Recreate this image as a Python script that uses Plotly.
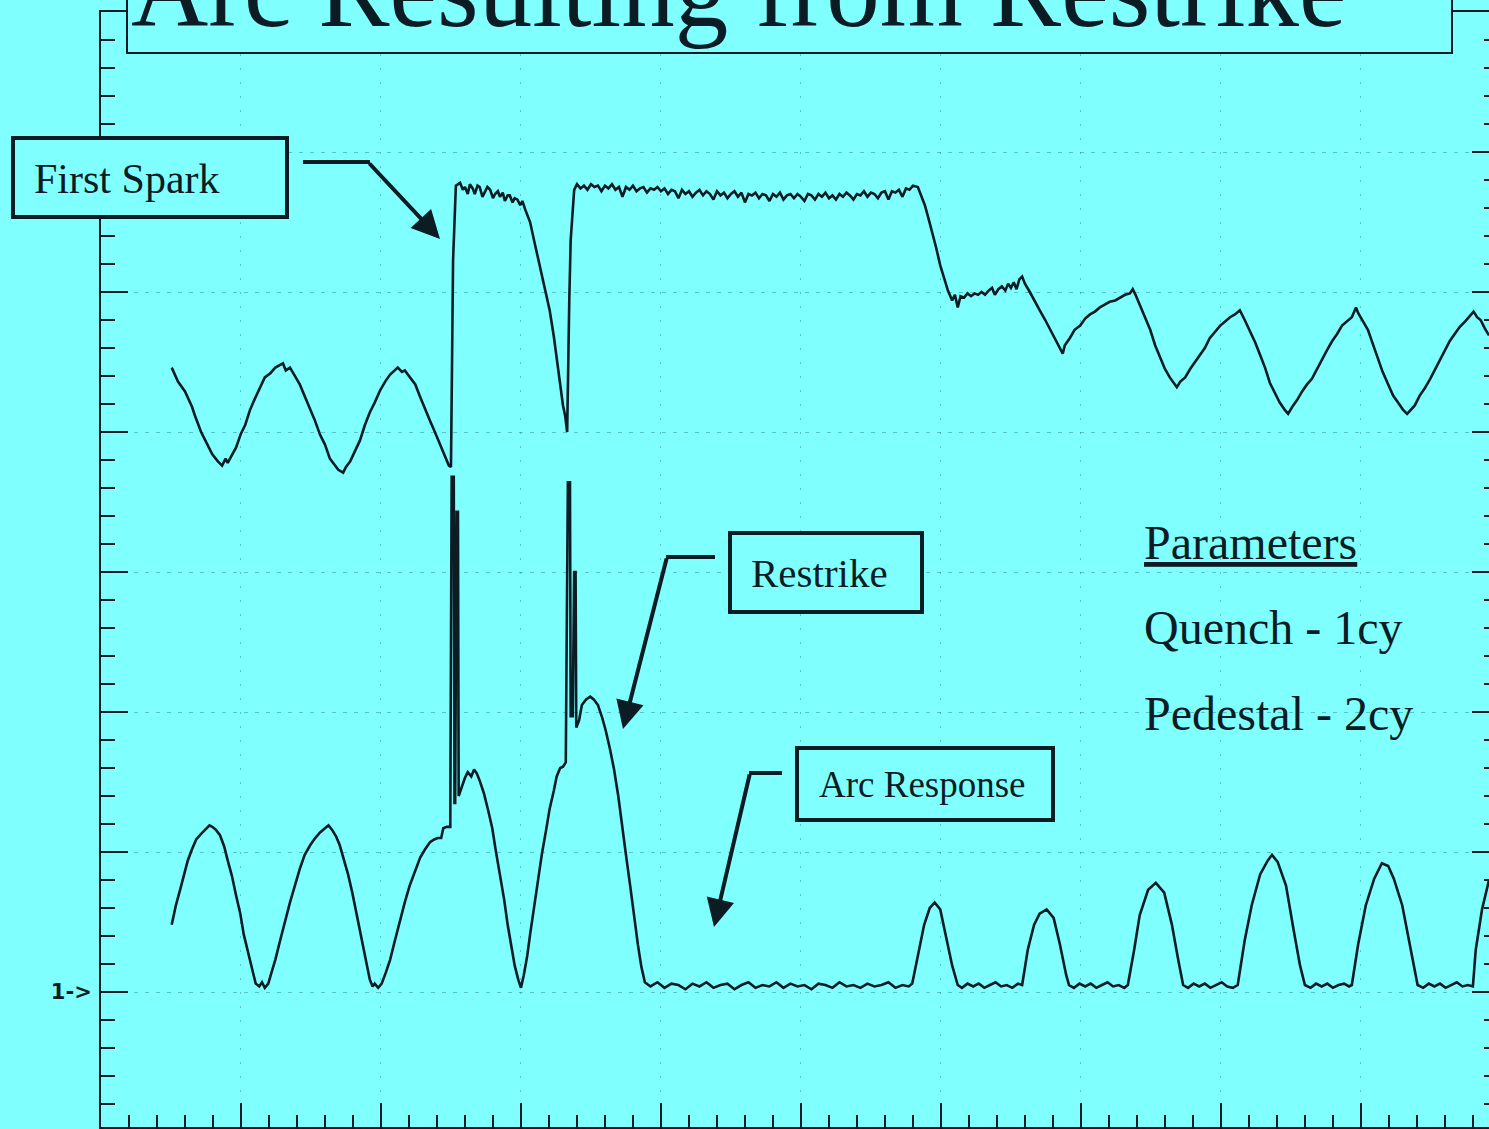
import plotly.graph_objects as go

# ---------------- data (time in ms, amplitude in tenths of a screen division; 0 = "1->" marker) -------------
v_time = [10.1, 11.0, 12.0, 13.0, 13.4, 14.3, 14.9, 15.9, 16.7, 17.3, 17.8, 18.1, 19.3, 20.0, 20.6, 21.3,
          22.0, 22.7, 23.4, 24.2, 24.9, 26.0, 26.4, 27.0, 27.7, 28.4, 29.9, 30.5, 31.3, 32.0, 32.7, 33.9,
          34.6, 35.0, 35.6, 36.3, 37.0, 37.7, 38.4, 39.1, 39.9, 40.6, 41.3, 42.4, 43.0, 43.4, 44.1, 44.9,
          45.6, 46.3, 47.0, 47.7, 48.3, 48.9, 49.3, 49.7, 50.0,
          50.3, 50.7,
          51.3, 51.7, 52.0, 52.4, 52.7, 53.1, 53.4, 53.8, 54.1, 54.5, 54.9, 55.2, 55.6, 56.0, 56.3, 56.7,
          57.0, 57.4, 57.7, 58.1, 58.4, 58.8, 59.1, 59.5, 59.9, 60.2, 60.6, 61.3,
          62.0, 62.7, 63.4, 64.1, 64.7, 65.3, 65.7, 66.0, 66.3, 66.6,
          66.9, 67.1, 67.6,
          68.0, 68.5, 69.0, 69.5, 70.0, 70.5, 71.0, 71.5, 72.0, 72.5, 73.0, 73.5, 74.0, 74.5, 75.0, 75.5,
          76.0, 76.5, 77.0, 77.5, 78.0, 78.5, 79.0, 79.5, 80.0, 80.5, 81.0, 81.5, 82.0, 82.5, 83.0, 83.5,
          84.0, 84.5, 85.0, 85.5, 86.0, 86.5, 87.0, 87.5, 88.0, 88.5, 89.0, 89.5, 90.0, 90.5, 91.0, 91.5,
          92.0, 92.5, 93.0, 93.5, 94.0, 94.5, 95.0, 95.5, 96.0, 96.5, 97.0, 97.5, 98.0, 98.5, 99.0, 99.5,
          100.0, 100.5, 101.0, 101.5, 102.0, 102.5, 103.0, 103.5, 104.0, 104.5, 105.0, 105.5, 106.0, 106.5,
          107.0, 107.5, 108.0, 108.5, 109.0, 109.5, 110.0, 110.5, 111.0, 111.5, 112.0, 112.5, 113.0, 113.5,
          114.0, 114.5, 115.0, 115.5, 116.0, 116.7,
          117.2, 117.7, 118.2, 118.7, 119.3, 119.9, 120.4, 121.0, 121.6,
          122.0, 122.4, 122.8, 123.3, 123.8, 124.3, 124.8, 125.3, 125.8, 126.3, 126.8, 127.3, 127.7, 128.2,
          128.7, 129.2, 129.6, 130.0, 130.4, 130.8, 131.2, 131.6, 132.0,
          132.7, 133.4, 134.1, 134.9, 135.6, 136.3, 137.0, 137.4, 137.7, 138.4, 139.1, 139.9, 140.6, 141.3,
          142.0, 142.7, 143.4, 144.1, 144.9, 145.6, 146.3, 147.0, 147.4, 147.8, 148.4, 149.1, 149.9, 150.6,
          151.3, 152.0, 152.7, 153.3, 153.7, 154.2, 154.9, 155.6, 156.3, 157.0, 157.7, 158.4, 159.1, 159.9,
          160.6, 161.3, 162.0, 162.7, 163.4, 164.1, 164.9, 165.6, 166.3, 167.0, 167.7, 168.4, 169.1, 169.6,
          170.2, 170.9, 171.6, 172.3, 173.0, 173.7, 174.4, 175.1, 175.9, 176.6, 177.3, 178.0, 178.7, 179.3,
          179.6, 180.3, 181.0, 181.7, 182.4, 183.1, 183.9, 184.6, 185.3, 186.0, 186.6, 187.1, 187.7, 188.4,
          189.1, 189.9, 190.6, 191.3, 192.0, 192.7, 193.4, 194.1, 194.9, 195.6, 196.1, 196.6, 197.1, 197.7,
          198.3]
v_amp = [44.6, 43.6, 42.9, 41.8, 41.2, 40.0, 39.4, 38.4, 37.9, 37.6, 38.1, 37.8, 38.9, 39.9, 40.5, 41.6,
         42.4, 43.1, 43.9, 44.2, 44.6, 44.9, 44.4, 44.6, 44.0, 43.4, 41.6, 40.9, 39.8, 39.1, 38.1, 37.3,
         37.1, 37.5, 37.9, 38.6, 39.4, 40.5, 41.4, 42.1, 43.0, 43.6, 44.1, 44.6, 44.3, 44.4, 43.9, 43.4,
         42.5, 41.6, 40.8, 40.0, 39.3, 38.6, 38.2, 37.6, 37.5,
         52.3, 57.6,
         57.8, 57.3, 57.5, 57.0, 57.7, 57.4, 57.0, 57.6, 57.5, 56.8, 57.2, 57.5, 57.3, 56.7, 57.0, 57.2,
         56.8, 57.1, 56.5, 56.9, 56.9, 56.4, 56.7, 56.6, 56.2, 56.5, 55.9, 55.0,
         53.4, 51.9, 50.3, 48.7, 46.8, 44.4, 43.0, 41.9, 41.2, 40.0,
         49.4, 53.7, 57.3,
         57.7, 57.4, 57.6, 57.3, 57.7, 57.5, 57.6, 57.2, 57.6, 57.4, 57.7, 57.3, 57.5, 56.8, 57.5, 57.3,
         57.6, 57.2, 57.4, 57.5, 57.1, 57.4, 57.3, 57.5, 57.2, 57.4, 57.0, 57.3, 57.2, 56.7, 57.3, 57.0,
         57.2, 56.8, 57.1, 57.3, 56.9, 57.2, 57.0, 56.6, 57.2, 56.9, 57.1, 56.7, 57.0, 57.2, 56.8, 57.1,
         56.4, 57.0, 56.9, 57.1, 56.7, 57.0, 56.9, 56.5, 57.0, 56.8, 57.1, 56.6, 56.9, 57.0, 56.7, 57.0,
         56.8, 56.5, 57.0, 56.9, 56.6, 57.0, 56.8, 57.1, 56.7, 56.9, 56.6, 57.0, 56.8, 57.1,
         56.9, 56.6, 57.0, 56.9, 57.2, 56.8, 57.1, 57.0, 56.7, 57.1, 57.2, 56.6, 57.2, 57.1,
         57.3, 56.8, 57.4, 57.3, 57.6, 57.5,
         56.8, 56.2, 55.3, 54.4, 53.2, 51.9, 51.0, 50.1, 49.4,
         49.8, 48.9, 49.7, 49.6, 49.9, 49.7, 49.9, 49.8, 50.0, 49.8, 50.1, 50.3, 49.8, 50.2,
         50.4, 50.1, 50.6, 50.3, 50.7, 50.2, 50.9, 51.1, 50.6,
         50.0, 49.3, 48.7, 48.0, 47.3, 46.7, 46.0, 45.6, 46.2, 46.7, 47.3, 47.6, 48.1, 48.4,
         48.6, 48.9, 49.1, 49.3, 49.4, 49.6, 49.8, 49.9, 50.2, 49.8, 49.1, 48.2, 47.3, 46.2,
         45.3, 44.5, 43.9, 43.5, 43.2, 43.6, 43.9, 44.5, 45.0, 45.5, 46.0, 46.7, 47.1, 47.6,
         47.9, 48.2, 48.4, 48.7, 48.0, 47.3, 46.4, 45.5, 44.6, 43.5, 42.8, 42.1, 41.6, 41.3,
         41.8, 42.3, 42.9, 43.4, 43.8, 44.5, 45.1, 45.8, 46.5, 47.0, 47.6, 47.9, 48.2, 48.9,
         48.5, 47.9, 47.3, 46.3, 45.3, 44.3, 43.4, 42.6, 42.1, 41.6, 41.3, 41.6, 41.9, 42.6,
         43.1, 43.8, 44.5, 45.1, 45.9, 46.5, 47.0, 47.5, 47.9, 48.3, 48.6, 48.2, 48.0, 47.4,
         46.9]

i_time = [10.1, 10.7, 11.3, 11.9, 12.4, 13.0, 13.6, 14.3, 14.9, 15.5, 15.9, 16.4, 17.0, 17.6, 18.1, 18.7,
          19.3, 19.9, 20.4, 21.0, 21.6, 22.1, 22.6, 23.0, 23.4, 23.9, 24.3, 24.9, 25.6, 26.3, 27.0, 27.7,
          28.4, 29.1, 29.9, 30.6, 31.3, 32.0, 32.5, 33.0, 33.6, 34.1, 34.7, 35.3, 35.9, 36.4, 37.0, 37.6,
          38.0, 38.4, 38.8, 39.1, 39.6, 40.1, 40.7, 41.3, 42.0, 42.7, 43.4, 44.1, 44.9, 45.6, 46.3, 47.0,
          47.6, 48.1, 48.6, 48.9, 49.4, 49.9,
          50.1, 50.4, 50.5, 50.6, 50.8, 51.0, 51.1,
          51.6, 52.0, 52.4, 52.9, 53.3, 53.7, 54.1, 54.7, 55.3, 55.9, 56.4, 57.0, 57.6, 58.1, 58.7, 59.1,
          59.6, 60.0, 60.4, 60.9, 61.3, 61.9, 62.4, 63.0, 63.6, 64.1, 64.7, 65.1, 65.6, 66.0, 66.4,
          66.7, 67.0, 67.1, 67.4, 67.6, 67.8, 67.9,
          68.3, 68.7, 69.3, 69.9, 70.4, 71.0, 71.6, 72.1, 72.7, 73.3, 73.9, 74.4, 75.0, 75.6, 76.1, 76.7,
          77.2, 77.7,
          78.5, 79.5, 80.5, 81.5, 82.5, 83.5, 84.5, 85.5, 86.5, 87.5, 88.5, 89.5, 90.5, 91.5, 92.5, 93.5,
          94.5, 95.5, 96.5, 97.5, 98.5, 99.5, 100.5, 101.5, 102.5, 103.5, 104.5, 105.5, 106.5, 107.5,
          108.5, 109.5, 110.5, 111.5, 112.5, 113.5, 114.5, 115.4,
          115.9, 116.7, 117.6, 118.4, 119.1, 119.9, 120.7, 121.6, 122.4,
          123.0, 123.8, 124.6, 125.4, 126.2, 127.0, 127.8, 128.6, 129.4, 130.2, 131.0, 131.6,
          132.4, 133.3, 134.1, 135.1, 136.1, 137.0, 137.9, 138.3,
          139.0, 139.8, 140.6, 141.4, 142.2, 143.0, 143.8, 144.6, 145.4, 146.2, 146.7,
          147.6, 148.4, 149.6, 150.7, 151.9, 153.0, 153.9, 154.6,
          155.3, 156.1, 156.9, 157.7, 158.5, 159.3, 160.1, 160.9, 161.7, 162.4,
          163.4, 164.4, 165.6, 166.7, 167.3, 168.1, 169.3, 170.4, 171.3, 172.0,
          172.8, 173.6, 174.4, 175.2, 176.0, 176.8, 177.6, 178.3, 178.7,
          179.6, 180.7, 181.9, 183.0, 183.9, 184.7, 185.9, 187.0, 188.1,
          188.9, 189.7, 190.5, 191.3, 192.1, 192.9, 193.7, 194.5, 195.3, 196.0,
          196.4, 197.3, 198.3]
i_amp = [4.8, 6.2, 7.3, 8.4, 9.4, 10.2, 10.9, 11.3, 11.6, 11.9, 11.8, 11.6, 11.2, 10.4, 9.4, 8.3,
         6.9, 5.6, 4.1, 2.8, 1.6, 0.6, 0.4, 0.7, 0.3, 0.6, 1.3, 2.3, 3.7, 5.1, 6.4, 7.6,
         8.8, 9.8, 10.5, 11.0, 11.4, 11.7, 11.9, 11.6, 11.1, 10.5, 9.5, 8.4, 7.1, 5.9, 4.3, 2.9,
         1.8, 0.9, 0.4, 0.6, 0.3, 0.6, 1.4, 2.3, 3.7, 5.1, 6.4, 7.6, 8.7, 9.6, 10.2, 10.7,
         10.9, 11.0, 11.0, 11.7, 11.8, 11.8,
         36.8, 36.8, 13.5, 13.5, 34.3, 34.3, 14.0,
         14.8, 15.3, 15.7, 15.4, 15.9, 15.6, 15.1, 14.2, 13.0, 11.7, 10.1, 8.4, 6.6, 4.8, 3.0, 1.9,
         0.9, 0.3, 1.2, 2.6, 4.1, 6.1, 8.0, 9.9, 11.6, 13.1, 14.4, 15.4, 16.0, 16.1, 16.4,
         36.4, 36.4, 19.7, 19.7, 30.0, 30.0, 18.9,
         19.4, 20.5, 20.9, 21.1, 20.9, 20.5, 19.6, 18.7, 17.4, 15.9, 14.0, 11.9, 9.8, 7.6, 5.5, 3.4,
         1.8, 0.7,
         0.4, 0.7, 0.3, 0.6, 0.5, 0.2, 0.6, 0.4, 0.7, 0.3, 0.5, 0.6, 0.2, 0.5, 0.7, 0.3,
         0.5, 0.4, 0.7, 0.3, 0.6, 0.4, 0.5, 0.2, 0.6, 0.5, 0.3, 0.7, 0.4, 0.5,
         0.3, 0.6, 0.4, 0.5, 0.7, 0.3, 0.5, 0.4,
         0.6, 2.6, 4.8, 6.0, 6.4, 5.9, 4.1, 1.9, 0.5,
         0.3, 0.6, 0.4, 0.6, 0.3, 0.5, 0.7, 0.4, 0.5, 0.3, 0.6, 0.5,
         3.0, 4.8, 5.6, 5.9, 5.3, 3.4, 1.2, 0.5,
         0.3, 0.6, 0.4, 0.6, 0.3, 0.5, 0.7, 0.4, 0.5, 0.3, 0.5,
         3.0, 5.5, 7.3, 7.8, 7.1, 4.8, 2.3, 0.5,
         0.3, 0.6, 0.4, 0.6, 0.3, 0.5, 0.7, 0.4, 0.3, 0.5,
         3.7, 6.2, 8.4, 9.4, 9.8, 9.3, 7.6, 4.4, 1.9, 0.5,
         0.3, 0.6, 0.4, 0.6, 0.3, 0.5, 0.6, 0.4, 0.5,
         3.4, 6.2, 8.1, 9.2, 9.0, 8.1, 6.2, 3.4, 0.5,
         0.3, 0.6, 0.4, 0.6, 0.3, 0.5, 0.7, 0.4, 0.5, 0.4,
         3.0, 5.9, 8.0]

x_range = [0, 198.3]
y_range = [-9.64, 70]
marker_label = "1->"

title_text = "Arc Resulting from Restrike"
label_spark = "First Spark"
label_restrike = "Restrike"
label_arc = "Arc Response"
param_lines = ["<u>Parameters</u>", "Quench - 1cy", "Pedestal - 2cy"]

# ---------------- styling ----------------
W, H = 1489, 1129
BG = "#80FFFF"
INK = "#0b1c24"
GRID = "rgba(20,110,125,0.40)"
SERIF = "Liberation Serif, Times New Roman, serif"

L, R, T, B = 101, 0, 12, 2
PW, PH = W - L - R, H - T - B


def PX(p):
    return (p - L) / PW


def PY(p):
    return (H - B - p) / PH


fig = go.Figure()
fig.add_trace(go.Scatter(x=v_time, y=v_amp, mode="lines", yaxis="y2",
                         line=dict(color=INK, width=2.6), hoverinfo="skip", showlegend=False))
fig.add_trace(go.Scatter(x=i_time, y=i_amp, mode="lines",
                         line=dict(color=INK, width=2.6), hoverinfo="skip", showlegend=False))

y_ticks = list(range(0, 71, 10))
fig.update_layout(
    width=W, height=H, template="none",
    margin=dict(l=L, r=R, t=T, b=B, pad=0),
    paper_bgcolor=BG, plot_bgcolor=BG,
    xaxis=dict(range=x_range, showline=True, linecolor=INK, linewidth=2, mirror=True,
               ticks="inside", ticklen=24, tickwidth=2, tickcolor=INK, tick0=0, dtick=20,
               showticklabels=False, showgrid=True, gridcolor=GRID, gridwidth=1, griddash="2px,12px",
               zeroline=False, automargin=False, fixedrange=True,
               minor=dict(ticks="inside", ticklen=12, tickwidth=2, tickcolor=INK, tick0=0, dtick=4,
                          showgrid=False)),
    yaxis=dict(range=y_range, showline=True, linecolor=INK, linewidth=2,
               ticks="inside", ticklen=27, tickwidth=2, tickcolor=INK,
               tickmode="array", tickvals=y_ticks,
               ticktext=[marker_label] + [""] * (len(y_ticks) - 1),
               tickfont=dict(family="DejaVu Sans", size=21, color=INK, weight="bold"), ticklabelstandoff=3,
               showgrid=True, gridcolor=GRID, gridwidth=1, griddash="4px,7px",
               zeroline=False, automargin=False, fixedrange=True,
               minor=dict(ticks="inside", ticklen=14, tickwidth=2, tickcolor=INK,
                          tickmode="linear", tick0=0, dtick=2, showgrid=False)),
    yaxis2=dict(range=y_range, overlaying="y", side="right", showline=False,
                ticks="inside", ticklen=17, tickwidth=2, tickcolor=INK, tick0=0, dtick=10,
                showticklabels=False, showgrid=False, zeroline=False, automargin=False, fixedrange=True,
                minor=dict(ticks="inside", ticklen=5, tickwidth=2, tickcolor=INK, tick0=0, dtick=2)),
)

shapes = []
# title box
shapes.append(dict(type="rect", xref="paper", yref="paper", x0=PX(127), x1=PX(1452), y0=PY(53), y1=PY(-30),
                   fillcolor=BG, line=dict(color=INK, width=2), layer="above"))
# label boxes
for (x0, y0, x1, y1) in [(13, 138, 287, 217), (730, 533, 922, 612), (797, 748, 1053, 820)]:
    shapes.append(dict(type="rect", xref="paper", yref="paper", x0=PX(x0), x1=PX(x1), y0=PY(y1), y1=PY(y0),
                       fillcolor=BG, line=dict(color=INK, width=4), layer="above"))
# arrow leaders (horizontal parts)
for (x0, y0, x1, y1) in [(303, 162, 370, 162), (715, 557, 666, 557), (782, 773, 749, 773)]:
    shapes.append(dict(type="line", xref="paper", yref="paper", x0=PX(x0), x1=PX(x1), y0=PY(y0), y1=PY(y1),
                       line=dict(color=INK, width=4), layer="above"))
fig.update_layout(shapes=shapes)

ann = []
# arrows (diagonal part with head)
for (tx, ty, sx, sy) in [(440, 239, 368, 162), (623, 729, 667, 557), (714, 927, 750, 773)]:
    ann.append(dict(xref="paper", yref="paper", x=PX(tx), y=PY(ty), ax=sx - tx, ay=sy - ty,
                    text="", showarrow=True, arrowhead=2, arrowsize=1.4, arrowwidth=4,
                    arrowcolor=INK, standoff=0, startstandoff=0))


def txt(s, x, ymid, size):
    return dict(xref="paper", yref="paper", x=PX(x), y=PY(ymid), xanchor="left", yanchor="middle",
                text=s, showarrow=False, borderpad=0,
                font=dict(family=SERIF, size=size, color=INK))


ann.append(txt(title_text, 130, -10, 107))
ann.append(txt(label_spark, 33, 179, 42))
ann.append(txt(label_restrike, 750, 573, 41))
ann.append(txt(label_arc, 818, 784, 37))
ann.append(txt(param_lines[0], 1143, 542, 48))
ann.append(txt(param_lines[1], 1143, 627, 48))
ann.append(txt(param_lines[2], 1143, 713, 48))
fig.update_layout(annotations=ann)

fig.write_html("out.html", config={"displayModeBar": False, "staticPlot": True},
               post_script="document.body.style.margin='0px';document.body.style.padding='0px';"
                           "document.documentElement.style.overflow='hidden';")
